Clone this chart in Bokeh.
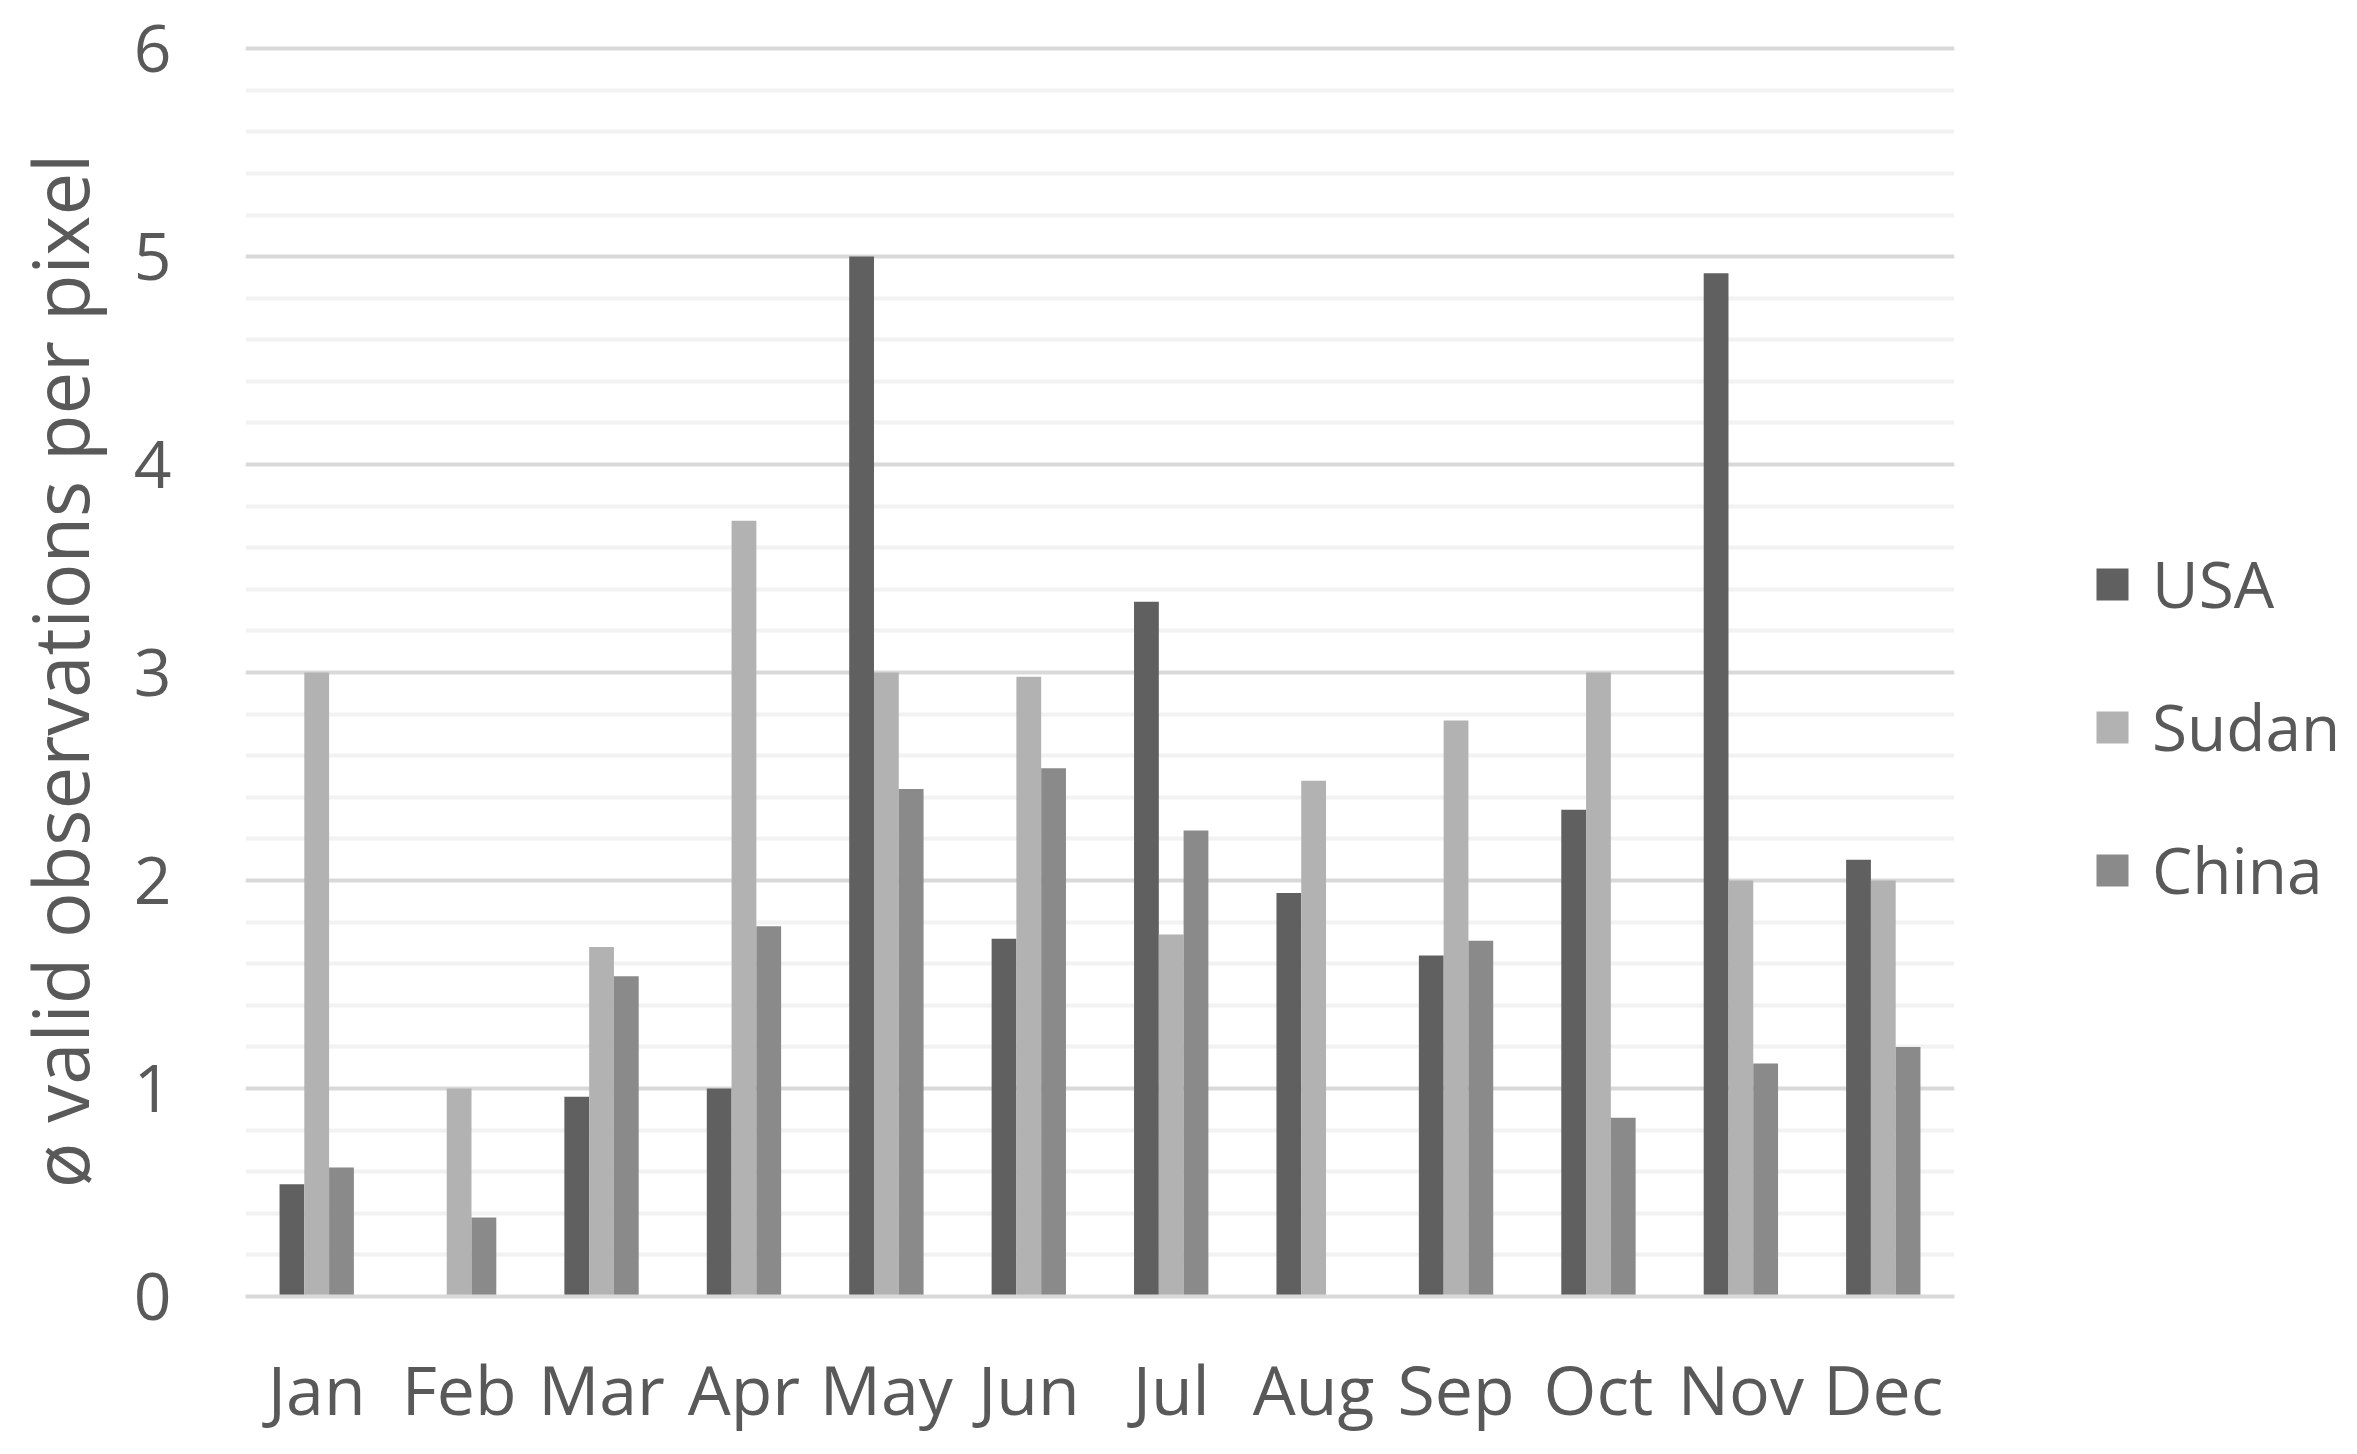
from bokeh.plotting import figure
from bokeh.layouts import row
from bokeh.models import FactorRange, Range1d, FixedTicker, Legend, LegendItem, ColumnDataSource
from bokeh.transform import dodge
from bokeh.embed import file_html
from bokeh.resources import INLINE

months = ["Jan", "Feb", "Mar", "Apr", "May", "Jun", "Jul", "Aug", "Sep", "Oct", "Nov", "Dec"]
usa = [0.54, 0.0, 0.96, 1.00, 5.00, 1.72, 3.34, 1.94, 1.64, 2.34, 4.92, 2.10]
sudan = [3.00, 1.00, 1.68, 3.73, 3.00, 2.98, 1.74, 2.48, 2.77, 3.00, 2.00, 2.00]
china = [0.62, 0.38, 1.54, 1.78, 2.44, 2.54, 2.24, 0.0, 1.71, 0.86, 1.12, 1.20]
series = ["USA", "Sudan", "China"]
columns = ["usa", "sudan", "china"]
colors = ["#606060", "#b2b2b2", "#8a8a8a"]
y_ticks = [0, 1, 2, 3, 4, 5, 6]

FONT = "Open Sans"
TXT = "#595959"

src = ColumnDataSource(dict(month=months, usa=usa, sudan=sudan, china=china))

xr = FactorRange(*months, range_padding=0)
yr = Range1d(0, 6.015)
p = figure(x_range=xr, y_range=yr,
           width=1960, height=1438, output_backend="svg", toolbar_location=None,
           min_border_left=245, min_border_right=6, min_border_top=45, min_border_bottom=142)
p.outline_line_color = None

bw = 0.174
offsets = [-bw, 0, bw]
for off, col, c in zip(offsets, columns, colors):
    p.vbar(x=dodge("month", off, range=xr), top=col, width=bw, source=src,
           fill_color=c, line_color=None)

p.yaxis.ticker = FixedTicker(ticks=y_ticks, minor_ticks=[i / 5 for i in range(31) if i % 5])
p.ygrid.grid_line_color = "#d9d9d9"
p.ygrid.grid_line_width = 4
p.ygrid.minor_grid_line_color = "#f2f2f2"
p.ygrid.minor_grid_line_width = 4
p.ygrid.level = "underlay"
p.xgrid.grid_line_color = None

for ax in (p.xaxis, p.yaxis):
    ax.major_tick_line_color = None
    ax.minor_tick_line_color = None
    ax.major_label_text_font = FONT
    ax.major_label_text_color = TXT
    ax.axis_label_text_font = FONT
    ax.axis_label_text_font_style = "normal"
    ax.axis_label_text_color = TXT

p.yaxis.major_label_text_font_size = "66px"
p.yaxis.axis_label_text_font_size = "76px"
p.yaxis.axis_line_color = None
p.yaxis.major_label_standoff = 68
p.yaxis.axis_label = "ø valid observations per pixel"
p.yaxis.axis_label_standoff = 20
p.xaxis.major_label_text_font_size = "68px"
p.xaxis.axis_line_color = "#d9d9d9"
p.xaxis.axis_line_width = 4
p.xaxis.major_label_standoff = 39
p.xaxis.group_text_font_size = "0px"

# legend panel (shares the data; its own copies of the bars are hidden)
p2 = figure(width=381, height=1438, x_range=xr, y_range=yr,
            output_backend="svg", toolbar_location=None, x_axis_type=None, y_axis_type=None,
            min_border=0)
p2.outline_line_color = None
p2.grid.visible = False
items = []
for name, off, col, c in zip(series, offsets, columns, colors):
    r = p2.vbar(x=dodge("month", off, range=xr), top=col, width=bw, source=src,
                fill_color=c, line_color=None, visible=False)
    items.append(LegendItem(label=name, renderers=[r]))

legend = Legend(items=items, location=(132, 383), glyph_width=40, glyph_height=40,
                label_text_font=FONT, label_text_font_size="64px", label_text_color=TXT,
                spacing=56, padding=0, margin=0, label_standoff=20,
                inactive_fill_alpha=0,
                border_line_color=None, background_fill_alpha=0)
p2.add_layout(legend, "center")

layout = row(p, p2, spacing=0)
open("out.html", "w").write(file_html(layout, INLINE))
